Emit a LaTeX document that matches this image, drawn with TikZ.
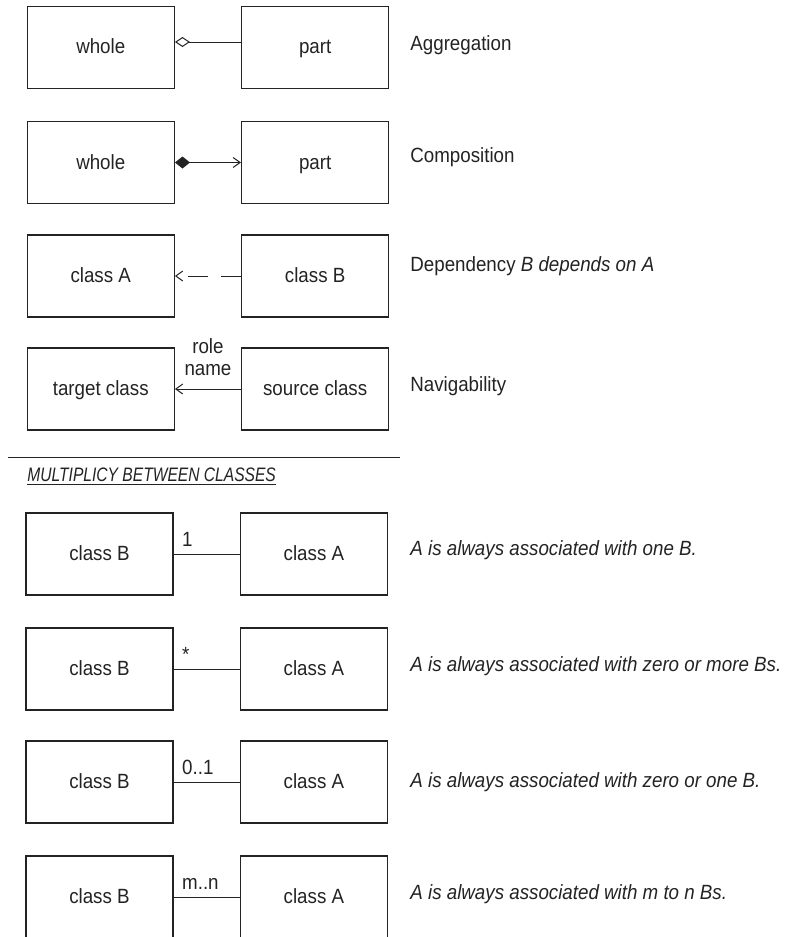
\documentclass[tikz,border=0pt]{standalone}
\usepackage{fontspec}
\setmainfont[FakeStretch=0.91]{Liberation Sans}
\newfontfamily\headfont[FakeStretch=0.8]{Liberation Sans}
\usetikzlibrary{arrows.meta, positioning}
\definecolor{umlInk}{RGB}{35,35,35}

\begin{document}
\begin{tikzpicture}[
    x=0.5pt, y=-0.5pt,
    node distance=33pt,
    cls/.style={rectangle, draw=umlInk, line width=0.7pt, minimum width=73.5pt,
                minimum height=41pt, inner sep=0pt, text=umlInk,
                text height=7pt, text depth=0.5pt},
    link/.style={draw=umlInk, line width=0.5pt},
    barb/.style={-{Straight Barb[length=3.5pt, width=5pt]}},
    desc/.style={anchor=base west, inner sep=0pt, text=umlInk},
    mult/.style={above right, inner xsep=4pt, inner ysep=3.5pt, text=umlInk},
    every node/.style={font=\fontsize{10.3}{10.8}\selectfont}
  ]
    \useasboundingbox (0,0) rectangle (787,937);

    % Aggregation
    \node[cls] (whole1) at (100.75,47.5) {whole};
    \node[cls, right=of whole1] (part1) {part};
    \node[desc] (agg) at (410,50) {Aggregation};

    % Composition
    \node[cls] (whole2) at (100.75,162.5) {whole};
    \node[cls, right=of whole2] (part2) {part};
    \node[desc] (comp) at (410,162) {Composition};

    % Dependency
    \node[cls] (classA3) at (100.75,276) {class A};
    \node[cls, right=of classA3] (classB3) {class B};
    \node[desc] (dep) at (410,271.5) {Dependency \textit{B depends on A}};

    % Navigability
    \node[cls] (target) at (100.75,389) {target class};
    \node[cls, right=of target] (source) {source class};
    \node[desc] (nav) at (410,391) {Navigability};

    % Arrows
    \draw[link, {Diamond[open, length=7.5pt, width=5pt]}-]
      ([yshift=2.75pt]whole1.east) -- ([yshift=2.75pt]part1.west);
    \draw[link, {Diamond[length=7.5pt, width=6pt]}-{Straight Barb[length=3.5pt, width=5pt]}]
      (whole2) -- (part2);
    \draw[link, barb, dash pattern=on 10pt off 6.5pt] (classB3) -- (classA3);
    \draw[link, barb] (source) -- node[above, align=center, inner sep=0pt, yshift=6.5pt,
      text=umlInk] (rolename) {role\\name} (target);

    % Separator
    \coordinate (ruleL) at (8,457);
    \coordinate (ruleR) at (400,457);
    \draw[link] (ruleL) -- (ruleR);
    \node[desc, font=\headfont\fontsize{9.75}{10}\selectfont\itshape] (head) at (27,481.5)
      {\underline{MULTIPLICY BETWEEN CLASSES}};

    % Multiplicity
    \node[cls] (classB5) at (99.5,554) {class B};
    \node[cls, right=of classB5] (classA5) {class A};
    \node[desc, font=\fontsize{10.3}{10.8}\selectfont\itshape] (one) at (410,555)
      {A is always associated with one B.};

    \node[cls] (classB6) at (99.5,669) {class B};
    \node[cls, right=of classB6] (classA6) {class A};
    \node[desc, font=\fontsize{10.3}{10.8}\selectfont\itshape] (many) at (410,671)
      {A is always associated with zero or more Bs.};

    \node[cls] (classB7) at (99.5,782) {class B};
    \node[cls, right=of classB7] (classA7) {class A};
    \node[desc, font=\fontsize{10.3}{10.8}\selectfont\itshape] (opt) at (410,787)
      {A is always associated with zero or one B.};

    \node[cls] (classB8) at (99.5,897) {class B};
    \node[cls, right=of classB8] (classA8) {class A};
    \node[desc, font=\fontsize{10.3}{10.8}\selectfont\itshape] (range) at (410,899)
      {A is always associated with m to n Bs.};

    \draw[link] (classB5) -- node[mult, pos=0] (m5) {1} (classA5);
    \draw[link] (classB6) -- node[mult, pos=0] (m6) {*} (classA6);
    \draw[link] (classB7) -- node[mult, pos=0] (m7) {0..1} (classA7);
    \draw[link] (classB8) -- node[mult, pos=0] (m8) {m..n} (classA8);
  \end{tikzpicture}
\end{document}
